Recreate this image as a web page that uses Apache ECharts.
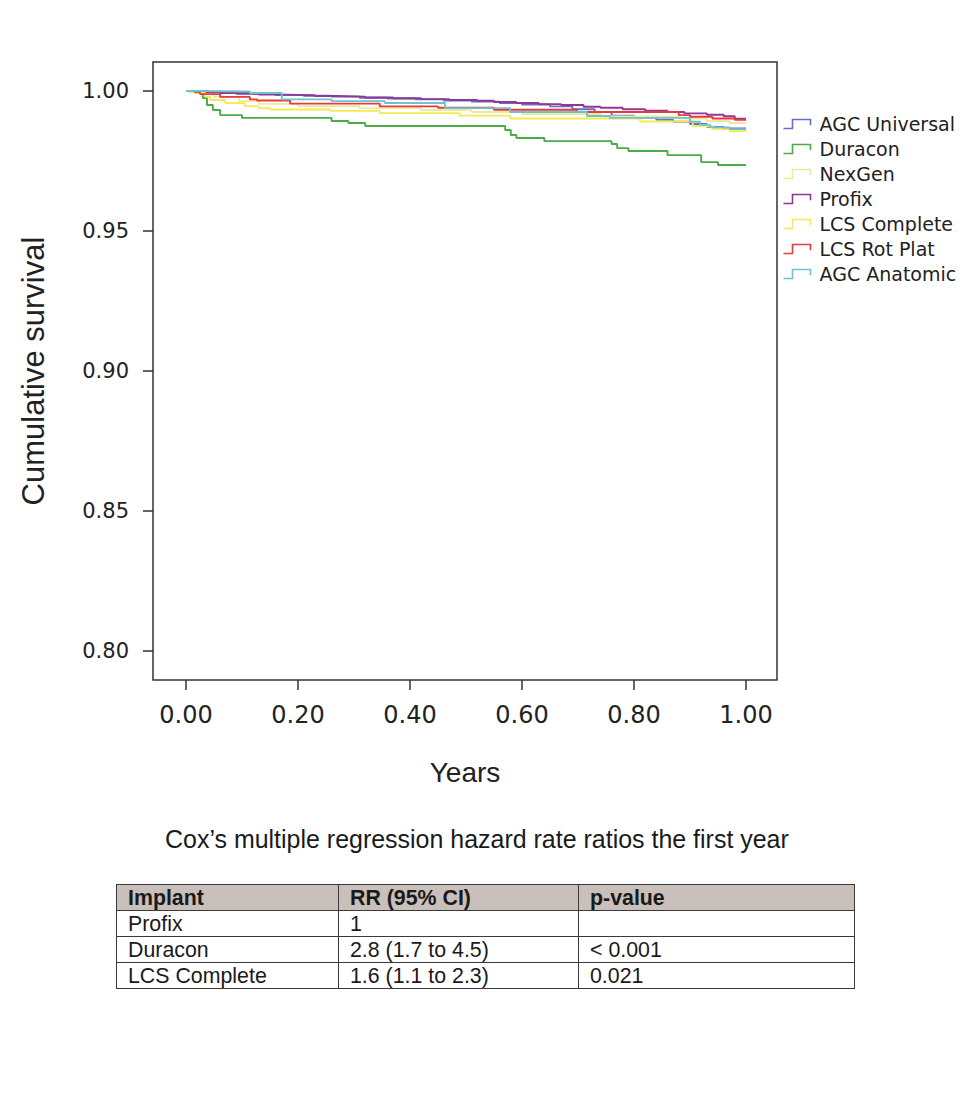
<!DOCTYPE html>
<html>
<head>
<meta charset="utf-8">
<script src="https://cdn.jsdelivr.net/npm/echarts@6/dist/echarts.min.js"></script>
<style>
  html, body { margin: 0; padding: 0; background: #fff; }
  #chart { position: absolute; left: 0; top: 0; width: 979px; height: 800px; }
  .cox-title {
    position: absolute; left: 0; width: 954px; top: 824px;
    text-align: center; font-family: "Liberation Sans", Arial, sans-serif;
    font-size: 26px; color: #1a1a1a;
  }
  .cox-title span { display: inline-block; transform: scaleX(0.96); transform-origin: center; }
  .cox-table {
    position: absolute; left: 116px; top: 884px; border-collapse: collapse;
    font-family: "Liberation Sans", Arial, sans-serif;
    font-size: 22px; color: #1a1a1a; table-layout: fixed;
  }
  .cox-table td, .cox-table th {
    border: 1.5px solid #3a3a3a; padding: 0 0 0 11px; height: 25px;
    text-align: left; line-height: 24px; overflow: visible; white-space: nowrap;
  }
  .cox-table span { display: inline-block; transform: scaleX(0.97); transform-origin: left center; }
  .cox-table th { background: #c9c0bb; font-weight: bold; }
</style>
</head>
<body>
<div id="chart"></div>
<div class="cox-title"><span id="coxTitle"></span></div>
<table class="cox-table" id="coxTable"></table>
<script>
// Kaplan-Meier curves, first year after surgery
const names = ["AGC Universal", "Duracon", "NexGen", "Profix", "LCS Complete", "LCS Rot Plat", "AGC Anatomic"];
const colors = ["#6a6fc0", "#4aab47", "#efe99c", "#8b3a98", "#f4ea55", "#e63a3c", "#6fc3cf"];

const agcUniT = [0, 0.04, 0.08, 0.12, 0.16, 0.21, 0.26, 0.31, 0.36, 0.41, 0.46, 0.51, 0.56, 0.60, 0.65, 0.69, 0.73, 0.76, 0.80, 0.84, 0.87, 0.90, 0.93, 0.96, 1.0];
const agcUniS = [1.0, 0.9997, 0.9993, 0.9990, 0.9986, 0.9983, 0.9980, 0.9976, 0.9973, 0.9970, 0.9966, 0.9962, 0.9957, 0.9952, 0.9945, 0.9935, 0.9925, 0.9912, 0.9905, 0.9897, 0.9890, 0.9882, 0.9872, 0.9866, 0.9866];

const duraconT = [0, 0.03, 0.0375, 0.048, 0.061, 0.10, 0.26, 0.29, 0.32, 0.57, 0.58, 0.59, 0.64, 0.76, 0.77, 0.79, 0.86, 0.92, 0.95, 1.0];
const duraconS = [1.0, 0.9975, 0.9950, 0.9932, 0.9914, 0.9904, 0.9893, 0.9886, 0.9875, 0.9861, 0.9843, 0.9832, 0.9821, 0.9811, 0.9796, 0.9786, 0.9771, 0.9746, 0.9736, 0.9736];

const nexgenT = [0, 0.016, 0.05, 0.095, 0.13, 0.2, 0.31, 0.42, 0.51, 0.6, 0.74, 0.88, 0.93, 0.97, 1.0];
const nexgenS = [1.0, 0.9993, 0.9979, 0.9964, 0.9954, 0.9946, 0.9939, 0.9932, 0.9925, 0.9918, 0.9909, 0.9902, 0.9893, 0.9886, 0.9886];

const profixT = [0, 0.03, 0.06, 0.09, 0.13, 0.18, 0.23, 0.27, 0.32, 0.37, 0.42, 0.47, 0.52, 0.55, 0.59, 0.63, 0.67, 0.71, 0.74, 0.78, 0.82, 0.86, 0.89, 0.93, 0.96, 0.98, 1.0];
const profixS = [1.0, 0.9996, 0.9993, 0.9990, 0.9987, 0.9985, 0.9982, 0.9980, 0.9977, 0.9974, 0.9971, 0.9968, 0.9965, 0.9961, 0.9957, 0.9953, 0.9950, 0.9944, 0.9940, 0.9935, 0.9930, 0.9925, 0.9920, 0.9915, 0.9910, 0.9901, 0.9901];

const lcsCompT = [0, 0.007, 0.034, 0.043, 0.07, 0.105, 0.13, 0.15, 0.257, 0.346, 0.489, 0.579, 0.811, 0.905, 0.941, 0.971, 1.0];
const lcsCompS = [1.0, 0.9995, 0.9979, 0.9968, 0.9957, 0.9946, 0.9939, 0.9934, 0.9929, 0.9921, 0.9912, 0.9902, 0.9891, 0.9875, 0.9864, 0.9857, 0.9857];

const lcsRotT = [0, 0.016, 0.025, 0.061, 0.114, 0.127, 0.186, 0.346, 0.45, 0.55, 0.698, 0.88, 0.9, 0.94, 0.98, 1.0];
const lcsRotS = [1.0, 0.9996, 0.9989, 0.9979, 0.9970, 0.9966, 0.9955, 0.9945, 0.9940, 0.9933, 0.9925, 0.9914, 0.9908, 0.9902, 0.9897, 0.9897];

const agcAnaT = [0, 0.025, 0.114, 0.171, 0.26, 0.355, 0.4625, 0.579, 0.716, 0.757, 0.9, 0.918, 0.936, 0.971, 1.0];
const agcAnaS = [1.0, 0.9998, 0.9993, 0.9970, 0.9964, 0.9957, 0.9939, 0.9925, 0.9911, 0.9904, 0.9890, 0.9879, 0.9870, 0.9864, 0.9864];

const xTicks = [0, 0.2, 0.4, 0.6, 0.8, 1.0];
const yTicks = [0.80, 0.85, 0.90, 0.95, 1.00];

const tableTitle = "Cox\u2019s multiple regression hazard rate ratios the first year";
const tableHeader = ["Implant", "RR (95% CI)", "p-value"];
const tableRows = [
  ["Profix", "1", ""],
  ["Duracon", "2.8 (1.7 to 4.5)", "< 0.001"],
  ["LCS Complete", "1.6 (1.1 to 2.3)", "0.021"]
];

const seriesT = [agcUniT, duraconT, nexgenT, profixT, lcsCompT, lcsRotT, agcAnaT];
const seriesS = [agcUniS, duraconS, nexgenS, profixS, lcsCompS, lcsRotS, agcAnaS];

const stepIcon = "path://M0,9 L8,9 L8,1 L24,1 L24,6";
const tickFont = "DejaVu Sans";

const chart = echarts.init(document.getElementById("chart"), null, { renderer: "svg" });
chart.setOption({
  animation: false,
  grid: {
    left: 153, top: 62, width: 624, height: 618,
    show: true, borderColor: "#333", borderWidth: 1.5, backgroundColor: "transparent"
  },
  legend: {
    orient: "vertical", left: 776, top: 109,
    itemWidth: 27, itemHeight: 11, itemGap: 5,
    textStyle: { fontFamily: tickFont, fontSize: 19, color: "#222", lineHeight: 20, padding: [0, 0, 0, 4] },
    data: names.map((n, i) => ({
      name: n, icon: stepIcon,
      itemStyle: { color: "none", borderColor: colors[i], borderWidth: 1.6 }
    }))
  },
  xAxis: {
    type: "value", min: -0.0589, max: 1.0554,
    name: "Years", nameLocation: "middle", nameGap: 78,
    nameTextStyle: { fontFamily: "Liberation Sans", fontSize: 28, color: "#222" },
    axisLine: { show: false, onZero: false },
    splitLine: { show: false },
    axisTick: { show: true, length: 10, customValues: xTicks, lineStyle: { color: "#333", width: 1.5 } },
    axisLabel: {
      customValues: xTicks, margin: 23, fontFamily: tickFont, fontSize: 24, color: "#222",
      formatter: v => v.toFixed(2)
    }
  },
  yAxis: {
    type: "value", min: 0.78964, max: 1.01036,
    name: "Cumulative survival", nameLocation: "middle", nameGap: 104, nameRotate: 90,
    nameTextStyle: { fontFamily: "Liberation Sans", fontSize: 31, color: "#222" },
    axisLine: { show: false, onZero: false },
    splitLine: { show: false },
    axisTick: { show: true, length: 10, customValues: yTicks, lineStyle: { color: "#333", width: 1.5 } },
    axisLabel: {
      customValues: yTicks, margin: 24, fontFamily: tickFont, fontSize: 21, color: "#222",
      formatter: v => v.toFixed(2)
    }
  },
  series: names.map((n, i) => ({
    name: n, type: "line", step: "end", showSymbol: false,
    data: seriesT[i].map((t, k) => [t, seriesS[i][k]]),
    lineStyle: { color: colors[i], width: 1.9 },
    itemStyle: { color: colors[i] }
  }))
});

document.getElementById("coxTitle").textContent = tableTitle;
const widths = [222, 240, 276];
const esc = s => s.replace("<", "&lt;");
let html = "<tr>" + tableHeader.map((h, i) => `<th style="width:${widths[i] - 12}px"><span>${h}</span></th>`).join("") + "</tr>";
tableRows.forEach(r => {
  html += "<tr>" + r.map(c => `<td><span>${esc(c)}</span></td>`).join("") + "</tr>";
});
document.getElementById("coxTable").innerHTML = html;
</script>
</body>
</html>
